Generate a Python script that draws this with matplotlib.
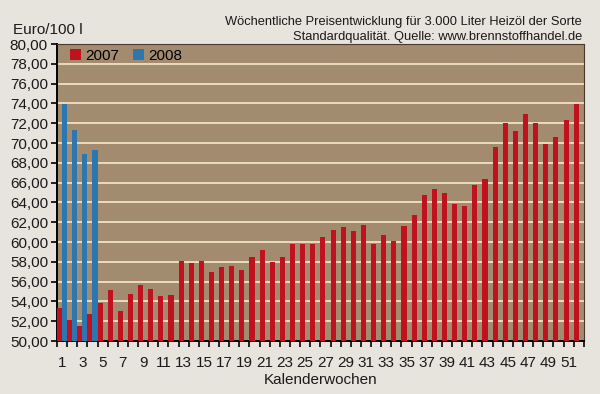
import matplotlib
matplotlib.use("Agg")
import matplotlib.pyplot as plt
from matplotlib.ticker import FixedLocator, FuncFormatter
from matplotlib.patches import Patch
import numpy as np

plt.rcParams['font.family'] = ['Liberation Sans', 'DejaVu Sans']

weeks = list(range(1, 53))
prices_2007 = [53.3, 52.1, 51.5, 52.7, 53.8, 55.2, 53.0, 54.7, 55.7, 55.3,
               54.5, 54.6, 58.1, 57.9, 58.1, 57.0, 57.5, 57.6, 57.2, 58.5,
               59.2, 58.0, 58.5, 59.75, 59.75, 59.8, 60.55, 61.25, 61.5, 61.1,
               61.75, 59.8, 60.7, 60.15, 61.65, 62.75, 64.7, 65.35, 64.95, 63.85,
               63.65, 65.8, 66.35, 69.55, 72.05, 71.25, 72.9, 72.05, 69.9, 70.65,
               72.3, 73.9]
weeks_2008 = [1, 2, 3, 4]
prices_2008 = [73.9, 71.3, 68.9, 69.3]
series_labels = ["2007", "2008"]
y_label = "Euro/100 l"
x_label = "Kalenderwochen"
title_lines = ["Wöchentliche Preisentwicklung für 3.000 Liter Heizöl der Sorte",
               "Standardqualität. Quelle: www.brennstoffhandel.de"]

red = "#c0111f"
blue = "#2c77b0"
bg = "#e7e3dd"
face = "#a38b6f"
grid_c = "#f0e2c4"
txt = "#1a1a1a"

fig = plt.figure(figsize=(6.0, 3.94), dpi=100, facecolor=bg)
ax = fig.add_axes([0.095, 0.1345, 0.878, 0.7538], facecolor=face)

w = np.array(weeks, dtype=float)
ax.bar(w - 0.25, prices_2007, width=0.5, color=red, zorder=3)
ax.bar(np.array(weeks_2008) + 0.25, prices_2008, width=0.5, color=blue, zorder=3)

ax.set_xlim(0.5, 52.5)
ax.set_ylim(50, 80)

yt = np.arange(50, 81, 2)
ax.yaxis.set_major_locator(FixedLocator(yt))
ax.yaxis.set_major_formatter(FuncFormatter(lambda v, p: f"{v:.2f}".replace(".", ",")))
ax.grid(axis='y', color=grid_c, linewidth=1.3, zorder=1)
ax.set_axisbelow(True)

ax.xaxis.set_major_locator(FixedLocator([k for k in weeks if k % 2 == 1]))
ax.xaxis.set_major_formatter(FuncFormatter(lambda v, p: f"{int(v)}"))
ax.xaxis.set_minor_locator(FixedLocator(np.arange(0.5, 53, 1.0)))
ax.tick_params(axis='x', which='major', length=0, pad=11, labelsize=11, colors=txt)
ax.tick_params(axis='x', which='minor', length=4, width=1.2, direction='out', color='black')
ax.tick_params(axis='y', which='major', length=4, width=1.2, direction='out',
               labelsize=11, pad=2.5, colors='black', labelcolor=txt)

for s in ['left', 'bottom']:
    ax.spines[s].set_color('black')
    ax.spines[s].set_linewidth(1.4)
for s in ['top', 'right']:
    ax.spines[s].set_color('#4a3a2a')
    ax.spines[s].set_linewidth(0.8)

ax.set_xlabel(x_label, fontsize=11, labelpad=2, color=txt)

fig.text(0.022, 0.925, y_label, fontsize=11, ha='left', va='center', color=txt)
fig.text(0.970, 0.945, title_lines[0], fontsize=9.3, ha='right', va='center', color=txt)
fig.text(0.970, 0.907, title_lines[1], fontsize=9.3, ha='right', va='center', color=txt)

handles = [Patch(facecolor=red, edgecolor='none'), Patch(facecolor=blue, edgecolor='none')]
ax.legend(handles, series_labels, loc='upper left', ncol=2, frameon=False,
          fontsize=11, handlelength=0.7, handleheight=0.7, handletextpad=0.3,
          columnspacing=0.9, borderaxespad=0.1, bbox_to_anchor=(0.01, 1.01))

fig.savefig("out.png", dpi=100, facecolor=bg)
